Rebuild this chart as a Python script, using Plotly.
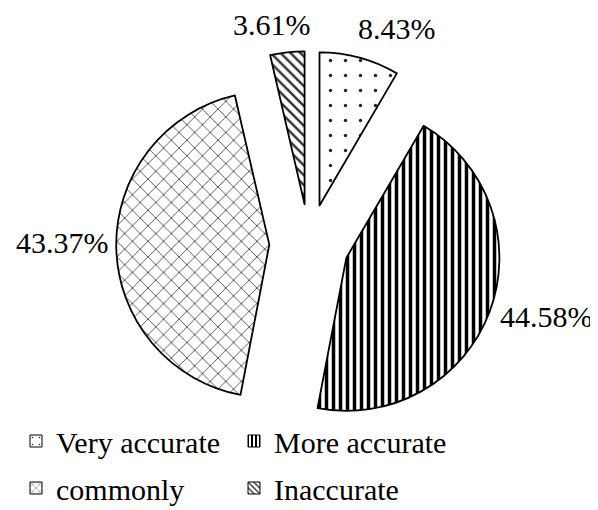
import plotly.graph_objects as go

labels = ["Very accurate", "More accurate", "commonly", "Inaccurate"]
values = [8.43, 44.58, 43.37, 3.61]
shapes = [".", "|", "x", "\\"]
fgcolors = ["#222", "black", "#444", "#333"]
sizes = [15, 7, 11, 7]
solidities = [0.04, 0.5, 0.15, 0.35]

W, H = 598, 510
FONT = "Liberation Serif"

# layout only: where each percentage label and legend entry sits (pixels)
label_pos = [(389, 21), (538, 308), (54, 235), (264, 17)]
legend_pos = [(8, 433), (226, 433), (8, 480), (226, 480)]
legend_names = ["legend", "legend2", "legend3", "legend4"]

fig = go.Figure()

# tiny pies that only provide legend entries (hidden under the main pie)
for i, lab in enumerate(labels):
    fig.add_trace(go.Pie(
        labels=[lab], values=[1], sort=False, textinfo="none", hoverinfo="skip",
        marker=dict(colors=["white"], line=dict(color="black", width=1),
                    pattern=dict(shape=[shapes[i]], fgcolor=[fgcolors[i]], bgcolor="white",
                                 size=[max(4, sizes[i] // 2)], solidity=[solidities[i]])),
        domain=dict(x=[0.72, 0.7205], y=[0.37, 0.3705]),
        legend=legend_names[i], showlegend=True,
    ))

fig.add_trace(go.Pie(
    labels=labels, values=values, sort=False, direction="clockwise", rotation=0,
    pull=[0.26] * len(values),
    textinfo="none",
    marker=dict(colors=["white"] * 4, line=dict(color="black", width=1.8),
                pattern=dict(shape=shapes, fgcolor=fgcolors, bgcolor="white",
                             size=sizes, solidity=solidities)),
    domain=dict(x=[0.181, 0.826], y=[0.159, 0.916]),
    showlegend=False,
))

for v, (px, py) in zip(values, label_pos):
    fig.add_annotation(
        text=f"{v:.2f}%", x=px / W, y=1 - py / H, xref="paper", yref="paper",
        xanchor="center", yanchor="middle", showarrow=False,
        font=dict(family=FONT, size=30, color="black"),
    )

layout_legends = {}
for name, (px, py) in zip(legend_names, legend_pos):
    layout_legends[name] = dict(
        x=px / W, y=1 - py / H, xanchor="left", yanchor="middle",
        xref="container", yref="container",
        font=dict(family=FONT, size=30, color="black"),
        bgcolor="rgba(0,0,0,0)", itemwidth=30,
    )

fig.update_layout(
    width=W, height=H, margin=dict(l=0, r=0, t=0, b=0, autoexpand=False),
    paper_bgcolor="white", plot_bgcolor="white",
    font=dict(family=FONT, size=30, color="black"),
    **layout_legends,
)
fig.write_html("out.html")
